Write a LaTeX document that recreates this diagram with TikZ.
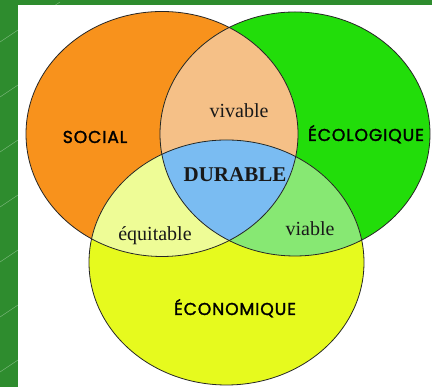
\documentclass[tikz,border=0pt]{standalone}
\usepackage{fontspec}
\usepackage{tikz}
\usepackage{xcolor}
\setmainfont{Liberation Serif}
\newfontfamily\catfont{Poppins}[LetterSpace=5, FakeBold=1.6]
\definecolor{frame}{RGB}{46,140,46}
\definecolor{social}{RGB}{248,146,28}
\definecolor{ecolo}{RGB}{34,221,10}
\definecolor{econo}{RGB}{230,250,30}
\definecolor{vivcol}{RGB}{245,192,135}
\definecolor{equcol}{RGB}{238,252,150}
\definecolor{viacol}{RGB}{135,232,115}
\definecolor{durcol}{RGB}{122,188,242}

\begin{document}
\begin{tikzpicture}[x=1pt, y=1pt,
    catlbl/.style={anchor=base, font=\catfont\fontsize{17.2}{20}\selectfont},
    zonelbl/.style={anchor=base, text=black!90, font=\fontsize{20}{24}\selectfont},
    outline/.style={draw=black!85, line width=0.8pt}]
\useasboundingbox (0,0) rectangle (432,387);
\fill[frame] (0,0) rectangle (432,387);
\begin{scope}
    \clip (0,0) rectangle (432,387);
    \foreach \y in {-40,15,...,420}
        \draw[white!45!frame, line width=0.4pt] (0,\y) -- (60,\y+40);
\end{scope}
\fill[white] (18,0) rectangle (432,382);

% the three sets
\fill[social] (162,253) ellipse [x radius=136pt, y radius=122.5pt];
\fill[ecolo] (295,253) ellipse [x radius=135pt, y radius=122pt];
\fill[econo] (226.5,124.5) ellipse [x radius=137.5pt, y radius=122.5pt];

% pairwise overlaps
\begin{scope}
    \clip (162,253) ellipse [x radius=136pt, y radius=122.5pt];
    \fill[vivcol] (295,253) ellipse [x radius=135pt, y radius=122pt];
    \fill[equcol] (226.5,124.5) ellipse [x radius=137.5pt, y radius=122.5pt];
\end{scope}
\begin{scope}
    \clip (295,253) ellipse [x radius=135pt, y radius=122pt];
    \fill[viacol] (226.5,124.5) ellipse [x radius=137.5pt, y radius=122.5pt];
\end{scope}
% the middle
\begin{scope}
    \clip (162,253) ellipse [x radius=136pt, y radius=122.5pt];
    \clip (295,253) ellipse [x radius=135pt, y radius=122pt];
    \fill[durcol] (226.5,124.5) ellipse [x radius=137.5pt, y radius=122.5pt];
\end{scope}

\draw[outline] (162,253) ellipse [x radius=136pt, y radius=122.5pt];
\draw[outline] (295,253) ellipse [x radius=135pt, y radius=122pt];
\draw[outline] (226.5,124.5) ellipse [x radius=137.5pt, y radius=122.5pt];

\node[catlbl] (social) at (95,244) {SOCIAL};
\node[catlbl] (ecologique) at (366,246) {ÉCOLOGIQUE};
\node[catlbl] (economique) at (235,72) {ÉCONOMIQUE};

\node[zonelbl] (vivable) at (239,269) {vivable};
\node[zonelbl] (equitable) at (155,146) {équitable};
\node[zonelbl] (viable) at (310,151) {viable};
\node[zonelbl, font=\bfseries\fontsize{21}{24}\selectfont] (durable) at (235,205) {DURABLE};

\end{tikzpicture}
\end{document}
